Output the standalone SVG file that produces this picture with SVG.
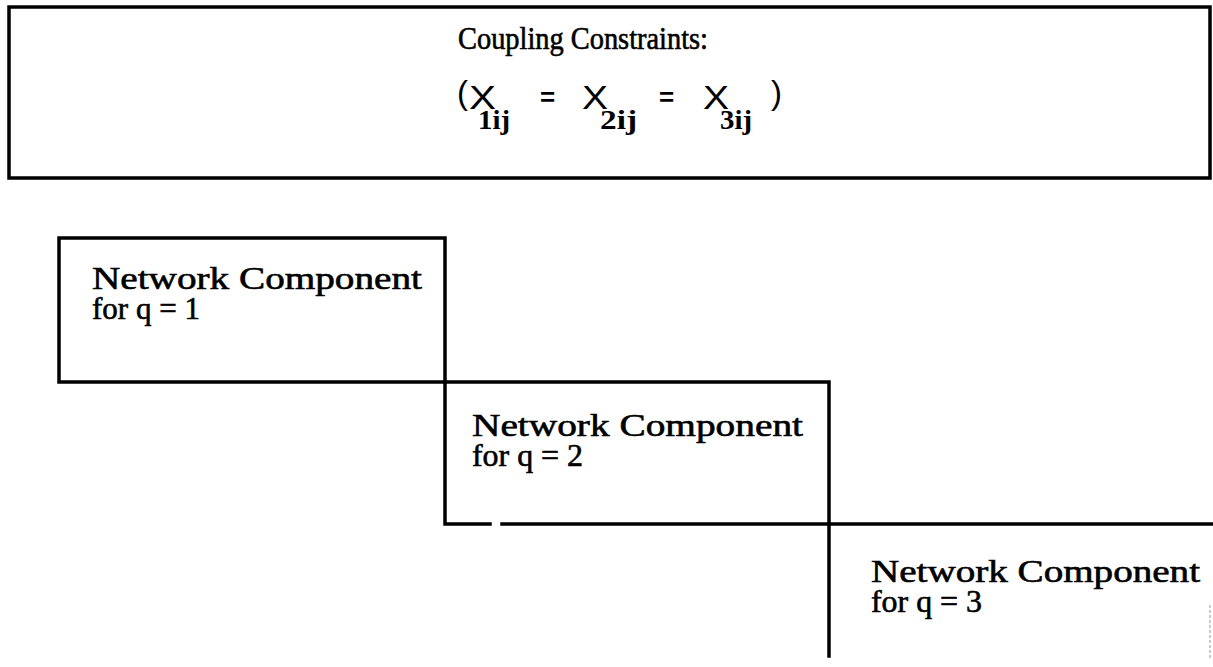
<svg xmlns="http://www.w3.org/2000/svg" width="1213" height="667" viewBox="0 0 1213 667">
  <style>
    .frame { fill: none; stroke: #000; stroke-width: 3.5; stroke-linecap: square; }
    .label { font-family: "Liberation Serif", "Times New Roman", serif; font-size: 31px; fill: #000; stroke: #000; stroke-width: 0.6; }
    .title { font-family: "Liberation Serif", "Times New Roman", serif; font-size: 31px; fill: #000; stroke: #000; stroke-width: 0.6; }
    .var { font-family: "Liberation Sans", Arial, sans-serif; font-size: 33px; fill: #000; }
    .sub { font-family: "Liberation Serif", "Times New Roman", serif; font-size: 27px; font-weight: bold; fill: #000; }
    .op { font-family: "Liberation Sans", Arial, sans-serif; font-size: 26px; font-weight: bold; fill: #000; }
  </style>

  <rect width="1213" height="667" fill="#fff"/>

  <!-- coupling constraints panel -->
  <g id="coupling">
    <rect class="frame" x="9" y="7" width="1201" height="171"/>
    <text class="title" x="458" y="49" textLength="250" lengthAdjust="spacingAndGlyphs">Coupling Constraints:</text>
    <text class="var" x="457" y="104">(</text>
    <text class="var" x="469" y="109" textLength="27" lengthAdjust="spacingAndGlyphs">X</text>
    <text class="sub" x="478" y="129" textLength="32" lengthAdjust="spacingAndGlyphs">1ij</text>
    <text class="op" x="540" y="106">=</text>
    <text class="var" x="582" y="109" textLength="26" lengthAdjust="spacingAndGlyphs">X</text>
    <text class="sub" x="600" y="129" textLength="37" lengthAdjust="spacingAndGlyphs">2ij</text>
    <text class="op" x="659" y="106">=</text>
    <text class="var" x="703" y="109" textLength="26" lengthAdjust="spacingAndGlyphs">X</text>
    <text class="sub" x="720" y="129" textLength="32" lengthAdjust="spacingAndGlyphs">3ij</text>
    <text class="var" x="771" y="104">)</text>
  </g>

  <!-- network component q = 1 -->
  <g id="component-q1">
    <path class="frame" d="M59,238 H445 V382 H59 Z"/>
    <text class="label" x="92" y="289" textLength="330" lengthAdjust="spacingAndGlyphs">Network Component</text>
    <text class="label" x="92" y="319" textLength="108" lengthAdjust="spacingAndGlyphs">for q = 1</text>
  </g>

  <!-- network component q = 2 (top edge continues from component 1) -->
  <g id="component-q2">
    <path class="frame" d="M445,382 H829 V524"/>
    <path class="frame" d="M445,382 V524 H490"/>
    <path class="frame" d="M502,524 H829"/>
    <text class="label" x="472" y="436" textLength="331" lengthAdjust="spacingAndGlyphs">Network Component</text>
    <text class="label" x="472" y="466" textLength="111" lengthAdjust="spacingAndGlyphs">for q = 2</text>
  </g>

  <!-- network component q = 3 (open at the bottom) -->
  <g id="component-q3">
    <path class="frame" d="M829,524 H1213"/>
    <path class="frame" d="M829,524 V656"/>
    <path d="M1210,605 V660" fill="none" stroke="#bbb" stroke-width="1.5" stroke-dasharray="3 2"/>
    <text class="label" x="871" y="582" textLength="329" lengthAdjust="spacingAndGlyphs">Network Component</text>
    <text class="label" x="871" y="612" textLength="111" lengthAdjust="spacingAndGlyphs">for q = 3</text>
  </g>
</svg>
